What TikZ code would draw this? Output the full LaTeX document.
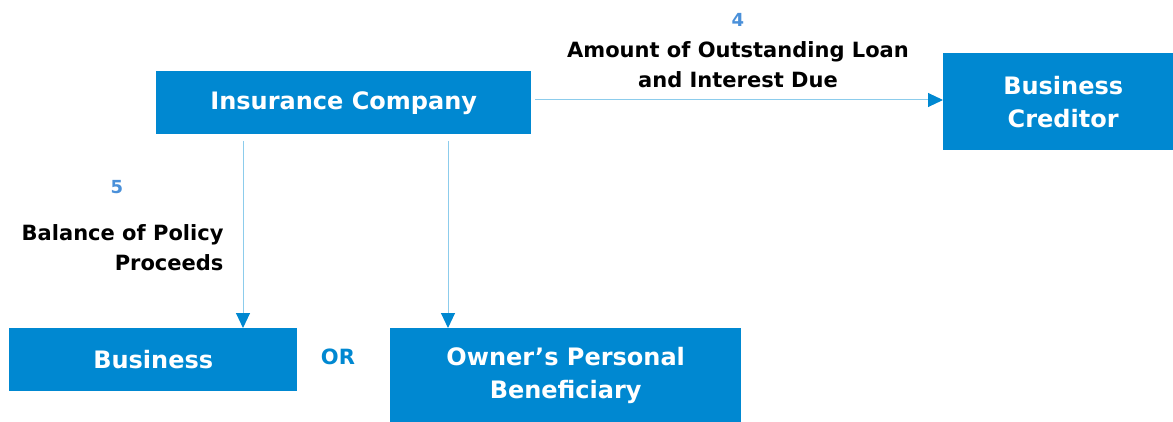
\documentclass[tikz,border=0pt]{standalone}
\usepackage{fontspec}
\setmainfont{DejaVu Sans}
\usepackage{tikz}
\usetikzlibrary{arrows.meta, positioning}

\definecolor{boxblue}{RGB}{0,136,209}
\definecolor{lineblue}{RGB}{140,204,236}
\definecolor{numblue}{RGB}{74,144,217}

\begin{document}
\begin{tikzpicture}
[x=1pt, y=-1pt,
party/.style={rectangle, fill=boxblue, text=white, font=\bfseries\fontsize{24}{33}\selectfont, align=center, inner sep=0pt, anchor=north west},
lbl/.style={font=\bfseries\fontsize{21}{30}\selectfont, text=black},
num/.style={font=\bfseries\fontsize{18}{21}\selectfont, text=numblue},
flow/.style={draw=lineblue, line width=1pt, -{Triangle[length=15pt, width=14pt, color=boxblue]}},
]
\useasboundingbox (0,0) rectangle (1173,422);

\node[party, minimum width=375pt, minimum height=63pt] (insurer) at (156,71) {Insurance Company};
\node[party, minimum width=240pt, minimum height=97pt] (creditor) at (943,53) {Business\\Creditor};
\node[party, minimum width=288pt, minimum height=63pt] (business) at (9,328) {Business};
\node[party, minimum width=351pt, minimum height=94pt] (owner) at (390,328) {Owner’s Personal\\Beneficiary};

% payments out of the policy
\coordinate (insurerE) at (535,100);
\coordinate (creditorW) at (943,100);
\coordinate (leftTop) at (243,141);
\coordinate (rightTop) at (448,141);
\draw[flow] (insurerE) -- (creditorW);
\draw[flow] (leftTop) -- (leftTop |- business.north);
\draw[flow] (rightTop) -- (rightTop |- owner.north);

\node[num] (four) at (738,20) {4};
\node[lbl, align=center] (loan) at (738,65) {Amount of Outstanding Loan\\and Interest Due};
\node[num] (five) at (117,187) {5};
\node[lbl, align=right, anchor=east] (balance) at (227,248) {Balance of Policy\\Proceeds};
\node[num, text=boxblue, font=\bfseries\fontsize{21}{21}\selectfont] (or) at (338,357) {OR};
\end{tikzpicture}
\end{document}
